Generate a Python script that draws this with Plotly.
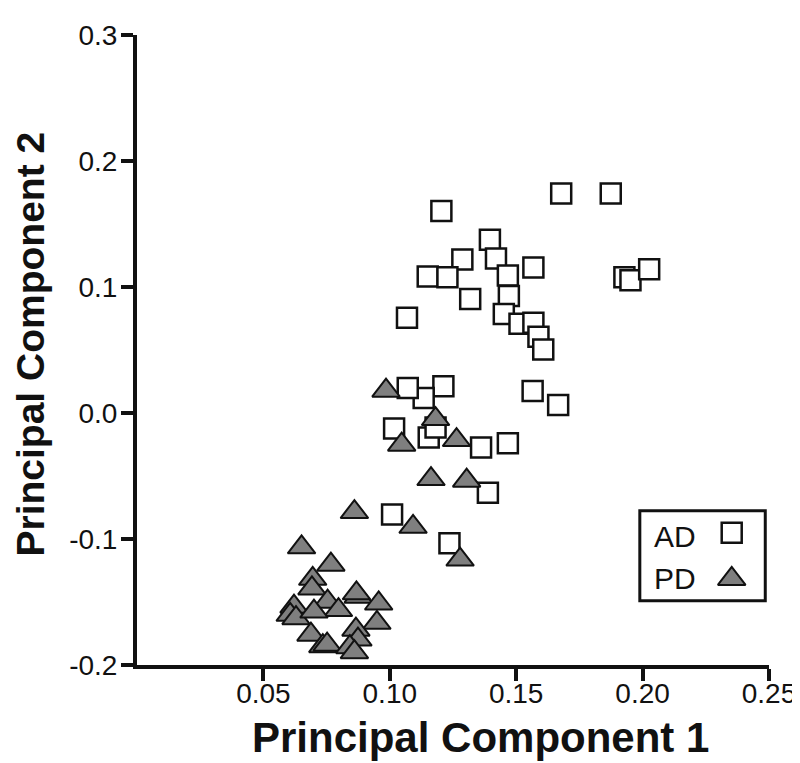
import plotly.graph_objects as go

# ---------------- data ----------------
ad_x = [0.1204, 0.1678, 0.1874, 0.1396, 0.1420, 0.1287, 0.1150, 0.1228, 0.1467,
        0.1568, 0.1318, 0.1471, 0.1068, 0.1451, 0.1513, 0.1568, 0.1588, 0.1607,
        0.1928, 0.1952, 0.2026, 0.1565, 0.1666, 0.1212, 0.1134, 0.1071, 0.1017,
        0.1154, 0.1181, 0.1361, 0.1467, 0.1388, 0.1009, 0.1236]
ad_y = [0.1603, 0.1743, 0.1743, 0.1375, 0.1226, 0.1218, 0.1084, 0.1077, 0.1092,
        0.1155, 0.0904, 0.0928, 0.0755, 0.0786, 0.0708, 0.0716, 0.0606, 0.0504,
        0.1077, 0.1053, 0.1140, 0.0174, 0.0064, 0.0213, 0.0119, 0.0198, -0.0124,
        -0.0194, -0.0116, -0.0273, -0.0241, -0.0633, -0.0806, -0.1034]

pd_x = [0.0985, 0.1181, 0.1047, 0.1264, 0.1163, 0.1304, 0.0860, 0.1092, 0.1278,
        0.0651, 0.0767, 0.0695, 0.0692, 0.0621, 0.0606, 0.0629, 0.0754, 0.0797,
        0.0700, 0.0688, 0.0735, 0.0752, 0.0875, 0.0868, 0.0956, 0.0949, 0.0866,
        0.0874, 0.0842, 0.0860]
pd_y = [0.0177, -0.0048, -0.0251, -0.0215, -0.0524, -0.0537, -0.0786, -0.0903, -0.1163,
        -0.1066, -0.1204, -0.1316, -0.1392, -0.1537, -0.1602, -0.1628, -0.1498, -0.1564,
        -0.1576, -0.1759, -0.1851, -0.1839, -0.1458, -0.1431, -0.1512, -0.1665, -0.1720,
        -0.1798, -0.1859, -0.1898]

group_names = ["AD", "PD"]

x_tickvals = [0.05, 0.10, 0.15, 0.20, 0.25]
x_ticktext = ["0.05", "0.10", "0.15", "0.20", "0.25"]
y_tickvals = [-0.2, -0.1, 0.0, 0.1, 0.2, 0.3]
y_ticktext = ["-0.2", "-0.1", "0.0", "0.1", "0.2", "0.3"]

x_title = "Principal Component 1"
y_title = "Principal Component 2"

# ---------------- styling ----------------
FONT = "Liberation Sans, Arial, Helvetica, sans-serif"
INK = "#111111"
GRAY = "#7f7f7f"

square_marker = dict(symbol="square", size=20, color="white",
                     line=dict(color=INK, width=2.5))
triangle_marker = dict(symbol="triangle-up", size=24, color=GRAY,
                       line=dict(color=INK, width=2))

fig = go.Figure()
fig.add_trace(go.Scatter(x=ad_x, y=ad_y, mode="markers", name=group_names[0],
                         marker=square_marker, showlegend=False))
fig.add_trace(go.Scatter(x=pd_x, y=pd_y, mode="markers", name=group_names[1],
                         marker=triangle_marker, showlegend=False))

# custom legend (text left of symbol, as in the reference), in paper units
leg_box = dict(x0=0.7956, x1=0.9941, y0=0.102, y1=0.2449)
leg_text_x = 0.8144
leg_rows_y = [0.2041, 0.1366]
leg_sym_x = 0.941
fig.add_trace(go.Scatter(x=[leg_sym_x], y=[leg_rows_y[0] + 0.006], mode="markers",
                         marker=square_marker, xaxis="x2", yaxis="y2",
                         showlegend=False, hoverinfo="skip"))
fig.add_trace(go.Scatter(x=[leg_sym_x], y=[leg_rows_y[1]], mode="markers",
                         marker=triangle_marker, xaxis="x2", yaxis="y2",
                         showlegend=False, hoverinfo="skip"))
fig.add_shape(type="rect", xref="paper", yref="paper", line=dict(color=INK, width=3),
              fillcolor="rgba(0,0,0,0)", **leg_box)
for name, yy in zip(group_names, leg_rows_y):
    fig.add_annotation(x=leg_text_x, y=yy, xref="paper", yref="paper", text=name,
                       showarrow=False, xanchor="left", yanchor="middle",
                       font=dict(family=FONT, size=30, color=INK))

# axis titles
fig.add_annotation(x=0.544, y=-0.115, xref="paper", yref="paper", text=x_title,
                   showarrow=False, xanchor="center", yanchor="middle",
                   font=dict(family=FONT, size=42, color=INK, weight="bold"))
fig.add_annotation(x=-0.168, y=0.51, xref="paper", yref="paper", text=y_title,
                   showarrow=False, xanchor="center", yanchor="middle", textangle=-90,
                   font=dict(family=FONT, size=39, color=INK, weight="bold"))

axis_common = dict(showgrid=False, zeroline=False, showline=True, linecolor=INK,
                   linewidth=4, ticks="outside", ticklen=12, tickwidth=4,
                   tickcolor=INK, tickfont=dict(family=FONT, size=28, color=INK),
                   mirror=False)

fig.update_layout(
    width=800, height=763,
    margin=dict(l=129, r=31, t=20, b=106),
    paper_bgcolor="white", plot_bgcolor="white",
    xaxis=dict(range=[0, 0.25], tickmode="array", tickvals=x_tickvals,
               ticktext=x_ticktext, ticklabelstandoff=-12, **axis_common),
    yaxis=dict(range=[-0.2, 0.3], tickmode="array", tickvals=y_tickvals,
               ticktext=y_ticktext, ticklabelstandoff=-2, **axis_common),
    xaxis2=dict(range=[0, 1], overlaying="x", visible=False, domain=[0, 1]),
    yaxis2=dict(range=[0, 1], overlaying="y", visible=False, domain=[0, 1]),
    showlegend=False,
)

fig.write_html("out.html")
